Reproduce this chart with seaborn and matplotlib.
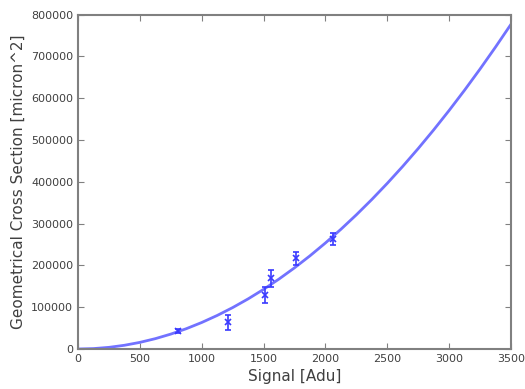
import matplotlib
matplotlib.use('Agg')
import matplotlib.pyplot as plt
import seaborn as sns
import pandas as pd

# measured points (signal, cross section, error)
signal_pts = [806, 1215, 1512, 1558, 1762, 2064]
cross_pts = [43500, 63500, 129000, 169000, 216500, 263000]
cross_err = [5000, 18000, 20000, 20000, 16000, 14000]

# fitted curve
fit_signal = [0, 125, 250, 375, 500, 625, 750, 875, 1000, 1125, 1250, 1375, 1500,
              1625, 1750, 1875, 2000, 2125, 2250, 2375, 2500, 2625, 2750, 2875,
              3000, 3125, 3250, 3375, 3500]
fit_cross = [0, 990, 3960, 8920, 15850, 24770, 35660, 48540, 63400, 80240, 99060,
             119870, 142650, 167420, 194160, 222890, 253600, 286290, 320960,
             357620, 396250, 436860, 479460, 524040, 570600, 619140, 669660,
             722160, 776650]

sns.set_style('ticks', {
    'xtick.direction': 'in',
    'ytick.direction': 'in',
    'axes.edgecolor': '#808080',
    'xtick.color': '#808080',
    'ytick.color': '#808080',
})
plt.rcParams['font.family'] = ['DejaVu Sans']

fig = plt.figure(figsize=(5.25, 3.89), dpi=100)
ax = fig.add_axes([0.1486, 0.1028, 0.8247, 0.8599])

fit_df = pd.DataFrame({'signal': fit_signal, 'cross': fit_cross})
sns.lineplot(data=fit_df, x='signal', y='cross', ax=ax, color='#7272ff', linewidth=2)

ax.errorbar(signal_pts, cross_pts, yerr=cross_err, fmt='x', color='#3a3aff',
            markersize=4, elinewidth=1.2, capsize=2, mew=1.2, zorder=3)

ax.set_xlim(0, 3500)
ax.set_ylim(0, 800000)
ax.set_xticks(range(0, 3501, 500))
ax.set_yticks(range(0, 800001, 100000))
ax.tick_params(labelsize=8, labelcolor='#404040', length=4, width=0.8,
               top=True, right=True)
for s in ax.spines.values():
    s.set_linewidth(1.5)
ax.set_xlabel('Signal [Adu]', fontsize=11, color='#404040')
ax.set_ylabel('Geometrical Cross Section [micron^2]', fontsize=11, color='#404040')

fig.savefig('out.png', dpi=100)
